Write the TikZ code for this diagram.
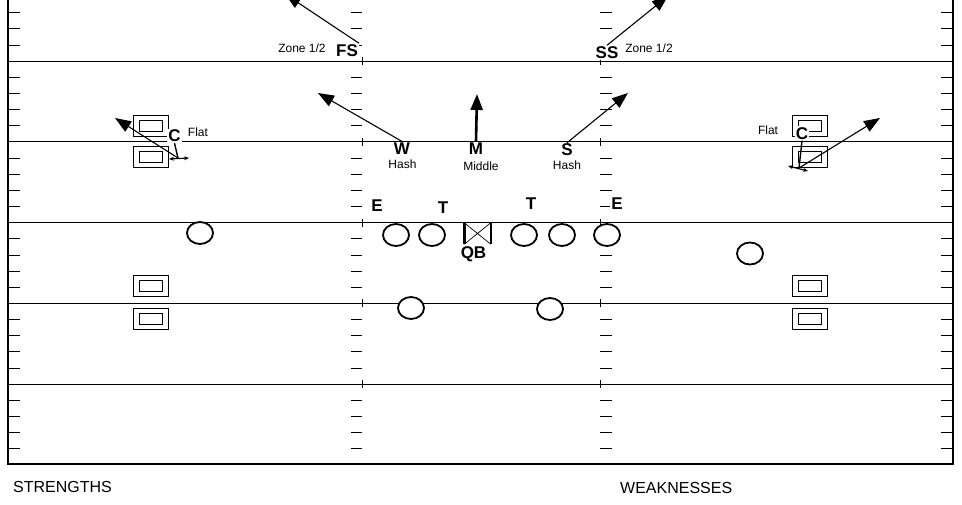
\documentclass[tikz,border=0pt]{standalone}
\usepackage{fontspec}
\setmainfont{Liberation Sans}
\usetikzlibrary{positioning}
\usetikzlibrary{arrows.meta}
\usetikzlibrary{shapes.geometric}

\begin{document}
\begin{tikzpicture}[
  yard/.style={line width=1pt, color=black},
  rim/.style={line width=1.8pt, color=black},
  man/.style={ellipse, minimum width=26pt, minimum height=22pt, line width=1.8pt, draw=black, fill=white, inner sep=0pt},
  wide/.style={rectangle, minimum width=35pt, minimum height=21pt, line width=1pt, draw=black, fill=white, inner sep=0pt,
    path picture={\draw[line width=1pt] (path picture bounding box.center) +(-11.5pt,-5.5pt) rectangle +(11.5pt,5.5pt);}},
  plyr/.style={fill=white, inner sep=1pt, font=\fontsize{17}{17}\selectfont\bfseries},
  note/.style={inner sep=1pt, font=\fontsize{12}{12}\selectfont},
  rt/.style={line width=1.1pt, -{Triangle[length=16pt,width=12pt]}},
  stub/.style={line width=1.1pt, {Stealth[length=5pt,width=4pt]}-{Stealth[length=5pt,width=4pt]}}
]
\useasboundingbox (0pt,0pt) rectangle (962pt,-505pt);
\clip (0pt,0pt) rectangle (962pt,-505pt);
% field
\draw [rim] (8pt,0pt) -- (8pt,-464pt) -- (953pt,-464pt) -- (953pt,0pt);
\foreach \y in {61.25,142,222.75,303.5,384.25} {
  \draw [yard] (8pt,-\y pt) -- (953pt,-\y pt);
  \draw [yard] (362pt,-\y pt) +(0pt,4pt) -- +(0pt,-4pt);
  \draw [yard] (600pt,-\y pt) +(0pt,4pt) -- +(0pt,-4pt);
}
\foreach \b in {-19.5,61.25,142,222.75,303.5,384.25}
  \foreach \o in {1,2,3,4} {
    \pgfmathsetmacro{\ty}{-(\b+16.15*\o)}
    \draw [yard] (8pt,\ty pt) -- (20pt,\ty pt);
    \draw [yard] (351pt,\ty pt) -- (362pt,\ty pt);
    \draw [yard] (600pt,\ty pt) -- (612pt,\ty pt);
    \draw [yard] (941pt,\ty pt) -- (953pt,\ty pt);
  }
% offense
\node (wl1) [wide] at (151pt,-126pt) {};
\node (wl2) [wide] at (151pt,-157.5pt) {};
\node (wr1) [wide] at (810pt,-126pt) {};
\node (wr2) [wide] at (810pt,-157.5pt) {};
\node (sl1) [wide] at (151pt,-286.5pt) {};
\node (sl2) [wide] at (151pt,-319pt) {};
\node (sr1) [wide] at (810pt,-286.5pt) {};
\node (sr2) [wide] at (810pt,-319pt) {};
\node (o1) [man] at (200pt,-233pt) {};
\node (o2) [man] at (396pt,-235pt) {};
\node (o3) [man] at (432pt,-235pt) {};
\node (o4) [man] at (524pt,-235pt) {};
\node (o5) [man] at (562pt,-235pt) {};
\node (o6) [man] at (607pt,-235pt) {};
\node (o7) [man] at (750pt,-253.5pt) {};
\node (o8) [man] at (411pt,-308pt) {};
\node (o9) [man] at (550pt,-309pt) {};
\node (qbox) [minimum width=26pt, minimum height=21pt, inner sep=0pt] at (477.5pt,-233.5pt) {};
\draw [line width=1pt] (qbox.north west) -- (qbox.north east);
\draw [line width=0.7pt] (qbox.north west) -- (qbox.south east) (qbox.north east) -- (qbox.south west);
\draw [line width=2.4pt] (qbox.north west) -- (qbox.south west);
\draw [line width=2.4pt] (qbox.north east) -- (qbox.south east);
\node (QB) [plyr] at (473.5pt,-254.5pt) {QB};
% defense
\node (EL) [plyr] at (377pt,-206pt) {E};
\node (TL) [plyr] at (443pt,-208pt) {T};
\node (TR) [plyr] at (531pt,-203.5pt) {T};
\node (ER) [plyr] at (617pt,-203.5pt) {E};
\node (FS) [plyr] at (347pt,-50.5pt) {FS};
\node (SS) [plyr] at (607pt,-52.5pt) {SS};
\node (W) [plyr] at (402pt,-148.5pt) {W};
\node (M) [plyr] at (476pt,-148.5pt) {M};
\node (S) [plyr] at (567pt,-150pt) {S};
\node (CL) [plyr] at (174.5pt,-136pt) {C};
\node (CR) [plyr] at (802pt,-133.5pt) {C};
\node (zfs) [note] at (302pt,-48pt) {Zone 1/2};
\node (zss) [note] at (649pt,-48pt) {Zone 1/2};
\node (hw) [note] at (402.5pt,-164pt) {Hash};
\node (hm) [note] at (481pt,-166pt) {Middle};
\node (hs) [note] at (567pt,-165pt) {Hash};
\node (fcl) [note] at (198pt,-132pt) {Flat};
\node (fcr) [note] at (768pt,-130pt) {Flat};
% drops
\coordinate (fsd) at (285pt,6pt);
\coordinate (ssd) at (668pt,4pt);
\coordinate (wd) at (318pt,-93pt);
\coordinate (md) at (477pt,-94pt);
\coordinate (sd) at (628pt,-93pt);
\coordinate (cl1) at (178pt,-158pt);
\coordinate (cl2) at (169pt,-159pt);
\coordinate (cl3) at (189pt,-158pt);
\coordinate (cld) at (115pt,-118pt);
\coordinate (cr1) at (799pt,-168pt);
\coordinate (cr2) at (788pt,-166pt);
\coordinate (cr3) at (808pt,-171pt);
\coordinate (crd) at (880pt,-118pt);
\draw [rt] (FS.north east) -- (fsd);
\draw [rt] (SS.north) -- (ssd);
\draw [rt] (W.north) -- (wd);
\draw [rt, line width=2.6pt] (M.north) -- (md);
\draw [rt] (S.north) -- (sd);
\draw [line width=1.4pt] (CL.south) -- (cl1);
\draw [stub] (cl2) -- (cl3);
\draw [rt] (cl1) -- (cld);
\draw [line width=1.4pt] (CR.south) -- (cr1);
\draw [stub] (cr2) -- (cr3);
\draw [rt] (cr1) -- (crd);
% notes
\node (str) [anchor=west, inner sep=0pt, font=\fontsize{16}{16}\selectfont] at (13pt,-487pt) {STRENGTHS};
\node (wkn) [anchor=west, inner sep=0pt, font=\fontsize{16}{16}\selectfont] at (620pt,-488pt) {WEAKNESSES};
\end{tikzpicture}
\end{document}
